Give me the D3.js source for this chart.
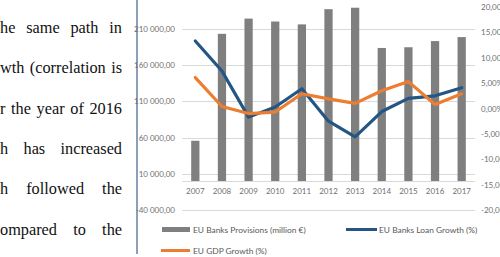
<!DOCTYPE html>
<html>
<head>
<meta charset="utf-8">
<script src="https://cdn.jsdelivr.net/npm/d3@7"></script>
<style>
body { margin: 0; background: #fff; }
svg { display: block; }
</style>
</head>
<body>
<div id="chart"></div>
<script>
var years = ["2007","2008","2009","2010","2011","2012","2013","2014","2015","2016","2017"]
var provisions = [55500, 203000, 224000, 220000, 216000, 237000, 239000, 183500, 184500, 193000, 198500]
var loanGrowth = [13.3, 7.4, -1.7, 0.3, 3.9, -2.5, -5.6, -0.6, 2.0, 2.5, 4.1]
var gdpGrowth = [6.1, 0.4, -1.0, -0.7, 2.9, 1.9, 1.0, 3.5, 5.3, 0.8, 2.9]
var leftTicks = [-40000, 10000, 60000, 110000, 160000, 210000]
var rightTicks = [-20, -15, -10, -5, 0, 5, 10, 15, 20]
var legendNames = ["EU Banks Provisions (million €)", "EU Banks Loan Growth (%)", "EU GDP Growth (%)"]
var bodyLines = [
	["he", "same", "path", "in"],
	["wth", "(correlation", "is"],
	["r", "the", "year", "of", "2016"],
	["h", "has", "increased"],
	["h", "followed", "the"],
	["ompared", "to", "the"]
]

var grey = "#7f7f7f", blue = "#245684", orange = "#ed7d31", axisText = "#6f6f6f"
var locale = d3.formatLocale({ decimal: ",", thousands: " ", grouping: [3], currency: ["", ""], minus: "-" })
var fmtLeft = locale.format(",.2f"), fmtRight = locale.format(".2f")

var svg = d3.select("#chart").append("svg").attr("width", 500).attr("height", 257)

// page text on the left, justified to the column edge
var textRight = 122
bodyLines.forEach(function(words, i) {
	var g = svg.append("g").attr("font-family", "'Liberation Serif', 'Times New Roman', serif").attr("font-size", 16.3).attr("fill", "#111")
	var nodes = words.map(function(w) { return g.append("text").attr("y", 33 + i * 40.3).text(w) })
	var widths = nodes.map(function(n) { return n.node().getComputedTextLength() })
	var gap = (textRight - d3.sum(widths)) / (words.length - 1)
	var x = 0
	nodes.forEach(function(n, j) { n.attr("x", x); x += widths[j] + gap })
})

svg.append("line").attr("x1", 137).attr("x2", 137).attr("y1", 0).attr("y2", 254)
	.attr("stroke", "#8aa1b8").attr("stroke-width", 2)

var x = d3.scaleBand().domain(years).range([182, 475]).paddingInner(0.69).paddingOuter(0.345)
var yLeft = d3.scaleLinear().domain([-40000, 240000]).range([210, 7])
var yRight = d3.scaleLinear().domain([-20, 20]).range([210, 7])

svg.append("g").selectAll("line").data(leftTicks).join("line")
	.attr("x1", 182).attr("x2", 475).attr("y1", function(d) { return Math.round(yLeft(d)) + 0.5 }).attr("y2", function(d) { return Math.round(yLeft(d)) + 0.5 })
	.attr("stroke", "#d9d9d9").attr("stroke-width", 1)

var leftAxis = svg.append("g").attr("transform", "translate(182,0)")
	.call(d3.axisLeft(yLeft).tickValues(leftTicks).tickFormat(fmtLeft).tickSize(0).tickPadding(7))
var rightAxis = svg.append("g").attr("transform", "translate(475,0)")
	.call(d3.axisRight(yRight).tickValues(rightTicks).tickFormat(function(d) { return fmtRight(d) + "%" }).tickSize(0).tickPadding(6))
var bottomAxis = svg.append("g").attr("transform", "translate(0," + (Math.round(yLeft(0)) + 0.5) + ")")
	.call(d3.axisBottom(x).tickSize(0).tickPadding(7))
;[leftAxis, rightAxis, bottomAxis].forEach(function(a) {
	a.select(".domain").remove()
	a.selectAll("text").attr("fill", axisText).attr("font-family", "Lato, 'Open Sans', sans-serif").attr("font-size", 8)
})
svg.append("line").attr("x1", 182).attr("x2", 475).attr("y1", Math.round(yLeft(0)) + 0.5).attr("y2", Math.round(yLeft(0)) + 0.5)
	.attr("stroke", "#d9d9d9")

svg.append("g").selectAll("rect").data(provisions).join("rect")
	.attr("x", function(d, i) { return x(years[i]) }).attr("width", x.bandwidth())
	.attr("y", function(d) { return yLeft(d) }).attr("height", function(d) { return yLeft(0) - yLeft(d) })
	.attr("fill", grey)

var line = d3.line().x(function(d, i) { return x(years[i]) + x.bandwidth() / 2 }).y(function(d) { return yRight(d) })
svg.append("path").datum(loanGrowth).attr("d", line).attr("fill", "none").attr("stroke", blue)
	.attr("stroke-width", 3.2).attr("stroke-linejoin", "round").attr("stroke-linecap", "round")
svg.append("path").datum(gdpGrowth).attr("d", line).attr("fill", "none").attr("stroke", orange)
	.attr("stroke-width", 3.2).attr("stroke-linejoin", "round").attr("stroke-linecap", "round")

// legend
var legend = svg.append("g").attr("font-family", "Lato, 'Open Sans', sans-serif").attr("font-size", 8.4).attr("fill", "#595959")
legend.append("rect").attr("x", 162).attr("y", 227).attr("width", 28).attr("height", 5).attr("fill", grey)
legend.append("text").attr("x", 193).attr("y", 232.5).text(legendNames[0])
legend.append("line").attr("x1", 346).attr("x2", 377).attr("y1", 229.5).attr("y2", 229.5).attr("stroke", blue).attr("stroke-width", 3)
legend.append("text").attr("x", 379).attr("y", 232.5).text(legendNames[1])
legend.append("line").attr("x1", 161).attr("x2", 190).attr("y1", 250.5).attr("y2", 250.5).attr("stroke", orange).attr("stroke-width", 3)
legend.append("text").attr("x", 193).attr("y", 253.5).text(legendNames[2])
</script>
</body>
</html>
